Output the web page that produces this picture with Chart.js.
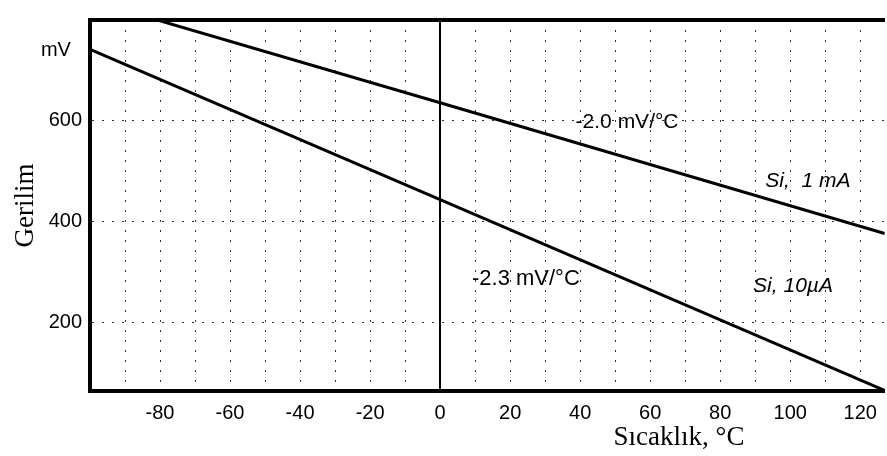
<!DOCTYPE html>
<html>
<head>
<meta charset="utf-8">
<script src="https://cdn.jsdelivr.net/npm/chart.js@4/dist/chart.umd.min.js"></script>
<style>
  html, body { margin: 0; padding: 0; background: #fff; }
  #wrap { width: 887px; height: 456px; }
</style>
</head>
<body>
<div id="wrap"><canvas id="diodeChart" width="887" height="456"></canvas></div>
<script>
// Temperature (°C) and diode voltage (mV)
const temps = [-100, 0, 127];
const si1mA = [839, 636, 377];
const si10uA = [742, 444, 66];

// axis ticks
const xGridTicks = [-90, -80, -70, -60, -50, -40, -30, -20, -10, 0, 10, 20, 30, 40, 50, 60, 70, 80, 90, 100, 110, 120];
const xTickLabels = [-80, -60, -40, -20, 0, 20, 40, 60, 80, 100, 120];
const yTickLabels = [200, 400, 600];
const yUnitTick = 740; // "mV" sits where a tick would be

// text notes on the plot, anchored in data units
const noteTexts = ['-2.0 mV/°C', 'Si,  1 mA', '-2.3 mV/°C', 'Si, 10µA'];
const noteTemps = [38.7, 92.9, 9.1, 89.4];
const noteVolts = [597, 480, 288, 272];
const noteSizes = [21, 21, 22, 21];
const noteItalic = [false, true, false, true];

function toPoints(xs, ys) {
  return xs.map((x, i) => ({ x: x, y: ys[i] }));
}

const textPlugin = {
  id: 'notes',
  afterDraw(chart) {
    const { ctx, scales } = chart;
    ctx.save();
    ctx.fillStyle = '#000';
    ctx.textBaseline = 'middle';
    ctx.textAlign = 'left';
    noteTexts.forEach((t, i) => {
      ctx.font = (noteItalic[i] ? 'italic ' : '') + noteSizes[i] + 'px "Liberation Sans", Arial, sans-serif';
      ctx.fillText(t, scales.x.getPixelForValue(noteTemps[i]), scales.y.getPixelForValue(noteVolts[i]));
    });
    // x axis title sits right of centre in the original
    ctx.font = '27px "Liberation Serif", "Times New Roman", serif';
    ctx.textAlign = 'center';
    ctx.fillText('Sıcaklık, °C', 679, 438);
    ctx.restore();
  }
};

const dotted = [2, 8];

new Chart(document.getElementById('diodeChart').getContext('2d'), {
  type: 'line',
  data: {
    datasets: [
      {
        label: 'Si, 1 mA',
        data: toPoints(temps, si1mA),
        borderColor: '#000',
        borderWidth: 3,
        pointRadius: 0,
        tension: 0
      },
      {
        label: 'Si, 10µA',
        data: toPoints(temps, si10uA),
        borderColor: '#000',
        borderWidth: 3,
        pointRadius: 0,
        tension: 0
      }
    ]
  },
  options: {
    responsive: false,
    animation: false,
    layout: { padding: 0 },
    plugins: {
      legend: { display: false },
      tooltip: { enabled: false }
    },
    scales: {
      x: {
        type: 'linear',
        position: 'bottom',
        min: -100,
        max: 127,
        afterBuildTicks: (scale) => {
          scale.ticks = xGridTicks.map(v => ({ value: v }));
        },
        afterFit: (scale) => { scale.height = 65; },
        grid: {
          drawTicks: false,
          color: (c) => (c.tick && c.tick.value === 0 ? '#000' : '#333'),
          lineWidth: (c) => (c.tick && c.tick.value === 0 ? 2 : 1)
        },
        border: {
          display: true,
          color: '#000',
          width: 4,
          dash: (c) => (c.tick && c.tick.value === 0 ? [] : dotted)
        },
        ticks: {
          autoSkip: false,
          maxRotation: 0,
          padding: 10,
          color: '#000',
          font: { family: '"Liberation Sans", Arial, sans-serif', size: 20 },
          callback: (v) => (xTickLabels.includes(v) ? String(v) : '')
        }
      },
      xTop: {
        type: 'linear',
        position: 'top',
        min: -100,
        max: 127,
        afterFit: (scale) => { scale.height = 8; },
        grid: { display: false, drawTicks: false },
        border: { display: true, color: '#000', width: 4 },
        ticks: { display: false }
      },
      y: {
        type: 'linear',
        min: 65,
        max: 800,
        afterBuildTicks: (scale) => {
          scale.ticks = yTickLabels.concat([yUnitTick]).map(v => ({ value: v }));
        },
        afterFit: (scale) => { scale.width = 90; },
        grid: {
          drawTicks: false,
          color: (c) => (c.tick && c.tick.value === yUnitTick ? 'rgba(0,0,0,0)' : '#333'),
          lineWidth: 1
        },
        border: { display: true, color: '#000', width: 4, dash: dotted },
        title: {
          display: true,
          text: 'Gerilim',
          color: '#000',
          font: { family: '"Liberation Serif", "Times New Roman", serif', size: 27, weight: 'normal' },
          padding: { top: 10, bottom: 0 }
        },
        ticks: {
          padding: 8,
          color: '#000',
          font: { family: '"Liberation Sans", Arial, sans-serif', size: 20 },
          callback: (v) => (v === yUnitTick ? 'mV  ' : String(v))
        }
      }
    }
  },
  plugins: [textPlugin]
});
</script>
</body>
</html>
